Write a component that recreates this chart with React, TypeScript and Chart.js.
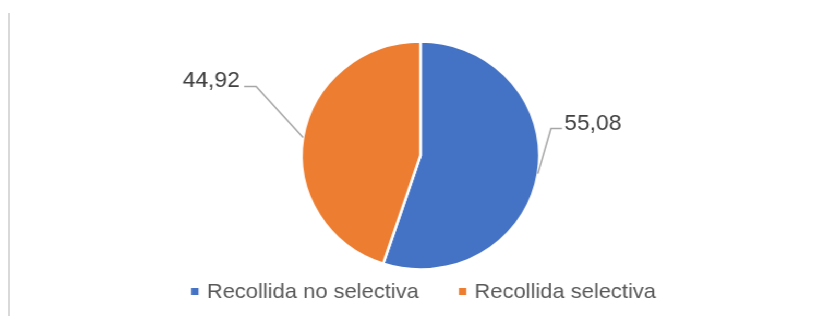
import React, { useEffect, useRef } from "react";
import { Chart, registerables } from "chart.js";

Chart.register(...registerables);

const categories = ["Recollida no selectiva", "Recollida selectiva"];
const values = [55.08, 44.92];
const colors = ["#4472C4", "#ED7D31"];

const FONT = '"Liberation Sans", Arial, sans-serif';
const CANVAS_W = 783;
const CANVAS_H = 316;
const STRETCH = 817 / 783;

// leader layout per slice: [elbowDx, elbowDy, tailDx, textGap]
const leaderLayout = [
  [12.5, -45, 10.6, 2],
  [-45, -51, -11.5, -4],
];

const fmt = (v: number) => v.toFixed(2).replace(".", ",");

const leaderLabels = {
  id: "leaderLabels",
  afterDatasetsDraw(chart: any) {
    const ctx = chart.ctx;
    const meta = chart.getDatasetMeta(0);
    meta.data.forEach((arc: any, i: number) => {
      const p = arc.getProps(["x", "y", "startAngle", "endAngle", "outerRadius"], true);
      const mid = (p.startAngle + p.endAngle) / 2;
      const ex = p.x + Math.cos(mid) * p.outerRadius;
      const ey = p.y + Math.sin(mid) * p.outerRadius;
      const [dx, dy, tx, gap] = leaderLayout[i];
      const bx = ex + dx;
      const by = ey + dy;
      const cx = bx + tx;
      ctx.save();
      ctx.strokeStyle = "#a6a6a6";
      ctx.lineWidth = 1.5;
      ctx.beginPath();
      ctx.moveTo(ex, ey);
      ctx.lineTo(bx, by);
      ctx.lineTo(cx, by);
      ctx.stroke();
      ctx.fillStyle = "#404040";
      ctx.font = `22px ${FONT}`;
      ctx.textBaseline = "alphabetic";
      ctx.textAlign = tx >= 0 ? "left" : "right";
      ctx.fillText(fmt(values[i]), cx + gap, by + 1);
      ctx.restore();
    });
  },
};

const bottomLegend = {
  id: "bottomLegend",
  afterDraw(chart: any) {
    const ctx = chart.ctx;
    const box = 7;
    const textGap = 8;
    const itemGap = 38.5;
    const baseline = 298;
    ctx.save();
    ctx.font = `21px ${FONT}`;
    const widths = categories.map((c) => ctx.measureText(c).width);
    const total =
      widths.reduce((a, w) => a + box + textGap + w, 0) + itemGap * (categories.length - 1);
    const meta = chart.getDatasetMeta(0);
    const centerX = meta.data[0].x + 3;
    let x = centerX - total / 2;
    categories.forEach((c, i) => {
      ctx.fillStyle = colors[i];
      ctx.fillRect(x, baseline - 10, box, box);
      x += box + textGap;
      ctx.fillStyle = "#595959";
      ctx.textAlign = "left";
      ctx.textBaseline = "alphabetic";
      ctx.fillText(c, x, baseline);
      x += widths[i] + itemGap;
    });
    ctx.restore();
  },
};

export default function App() {
  const ref = useRef<HTMLCanvasElement | null>(null);
  useEffect(() => {
    if (!ref.current) return;
    const chart = new Chart(ref.current, {
      type: "pie",
      data: {
        labels: categories,
        datasets: [
          {
            data: values,
            backgroundColor: colors,
            borderColor: "#ffffff",
            borderWidth: 2.5,
            radius: 114,
          } as any,
        ],
      },
      options: {
        responsive: false,
        animation: false,
        devicePixelRatio: 1,
        layout: { padding: { left: 123, right: 100, top: 20, bottom: 25 } },
        plugins: {
          legend: { display: false },
          tooltip: { enabled: false },
        },
      },
      plugins: [leaderLabels, bottomLegend],
    });
    return () => chart.destroy();
  }, []);
  return (
    <>
      <div
        style={{
          position: "absolute",
          left: 0,
          top: 0,
          width: CANVAS_W,
          height: CANVAS_H,
          transform: `scaleX(${STRETCH})`,
          transformOrigin: "0 0",
          background: "#fff",
        }}
      >
        <canvas ref={ref} width={CANVAS_W} height={CANVAS_H} style={{ display: "block" }} />
      </div>
      <div
        style={{
          position: "absolute",
          left: 8,
          top: 13,
          width: 2,
          height: 303,
          background: "#d9d9d9",
        }}
      />
    </>
  );
}
